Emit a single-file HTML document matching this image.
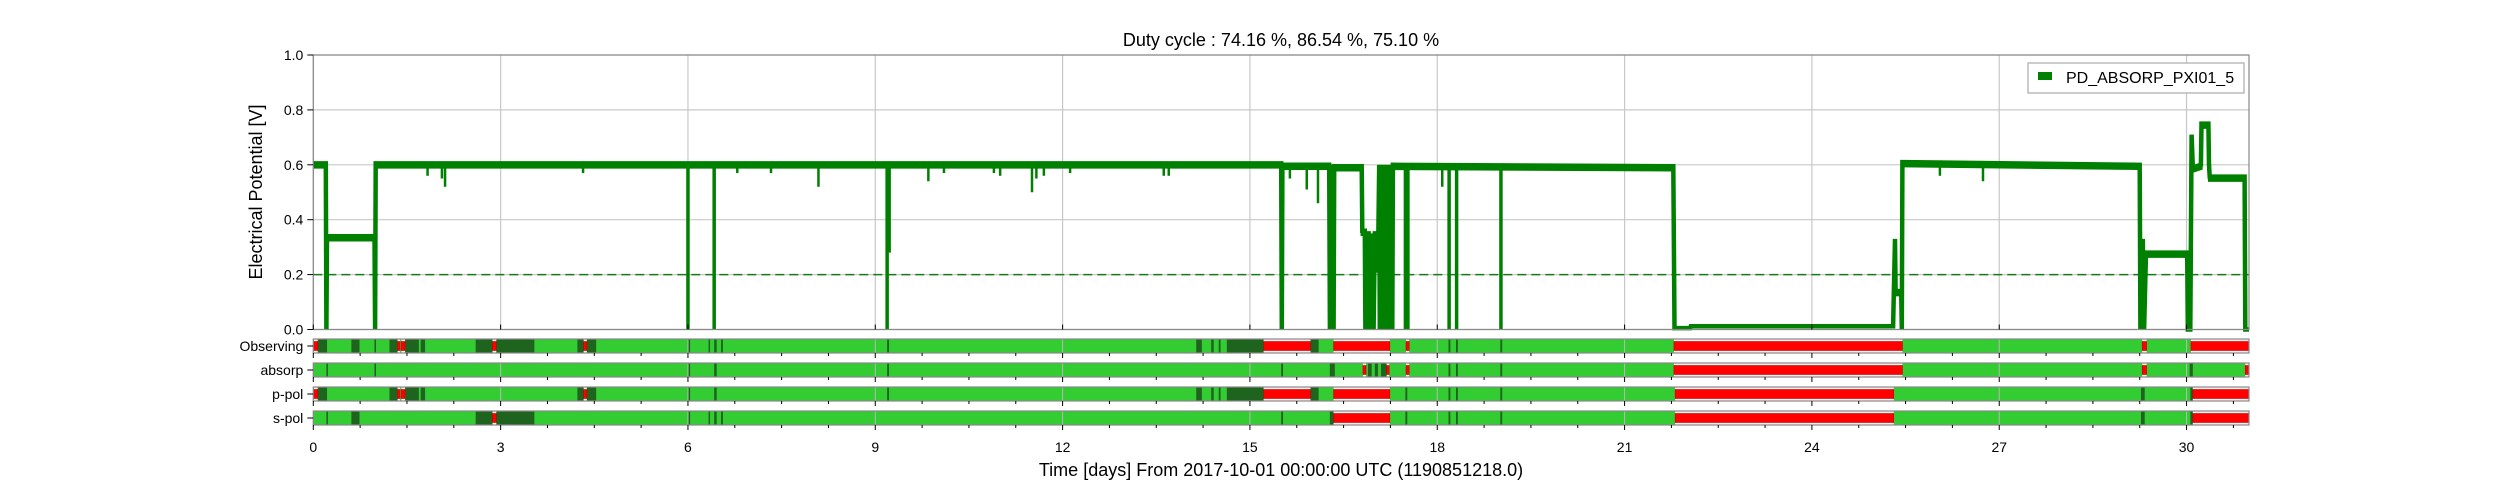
<!DOCTYPE html>
<html><head><meta charset="utf-8"><style>
html,body{margin:0;padding:0;background:#fff;}
svg{display:block;font-family:"Liberation Sans",sans-serif;}
</style></head><body>
<svg id="chart" width="2500" height="500" viewBox="0 0 2500 500" xmlns="http://www.w3.org/2000/svg">
<rect x="0" y="0" width="2500" height="500" fill="#fff"/>
<text x="1281" y="46" font-size="18" text-anchor="middle" fill="#000">Duty cycle : 74.16 %, 86.54 %, 75.10 %</text>
<text transform="translate(262,192) rotate(-90)" font-size="18" text-anchor="middle" fill="#000">Electrical Potential [V]</text>
<text x="1281" y="476" font-size="18" text-anchor="middle" fill="#000">Time [days] From 2017-10-01 00:00:00 UTC (1190851218.0)</text>
<g id="grid"></g>
<g id="series"></g>
<g id="segs"></g>
<g id="axes"></g>
<g id="legend">
<rect x="2028" y="63" width="216" height="30" fill="#fff" stroke="#aaa" stroke-width="1.2"/>
<rect x="2038" y="72" width="14" height="8" fill="#008000"/>
<text x="2066" y="83" font-size="16" fill="#000">PD_ABSORP_PXI01_5</text>
</g>
</svg>
<script>
// ---- data ----
const xTicks = [0,3,6,9,12,15,18,21,24,27,30];
const yTicks = [0.0,0.2,0.4,0.6,0.8,1.0];
const threshold = 0.2;
const traceDays  = [0,0.2,0.21,0.22,0.98,0.99,1.0,15.5,15.51,15.52,16.27,16.28,16.29,16.3,16.33,16.34,16.35,16.79,16.8,16.84,16.85,16.86,16.9,16.9,16.92,16.94,16.96,16.98,17.0,17.04,17.05,17.07,17.08,17.1,17.12,17.14,17.16,17.18,17.2,17.22,17.24,17.26,17.28,17.29,21.78,21.8,22.05,22.06,25.3,25.33,25.34,25.43,25.44,25.45,29.25,29.26,29.3,29.32,29.35,30.01,30.02,30.06,30.08,30.1,30.23,30.24,30.35,30.36,30.37,30.93,30.94,31];
const traceVolts = [0.605,0.605,0,0.34,0.34,0,0.605,0.605,0,0.6,0.6,0,0.6,0,0.6,0,0.595,0.595,0.36,0.36,0,0.35,0.35,0,0.35,0,0.35,0,0.35,0.35,0.22,0.6,0,0.6,0,0.6,0,0.6,0,0.6,0,0.6,0,0.6,0.595,0.005,0.005,0.012,0.012,0.33,0.14,0.14,0,0.61,0.6,0,0.33,0,0.28,0.28,0,0,0.71,0.59,0.6,0.75,0.75,0.6,0.557,0.557,0,0];
const dropDays = [6.0,6.42,9.19,17.49,17.53,18.19,18.31,19.02];
const dipDays  = [1.83,2.06,2.11,4.32,6.79,7.33,8.09,9.23,9.85,10.1,10.9,11.0,11.51,11.58,11.7,12.12,13.62,13.7,15.64,15.91,16.09,18.08,26.05,26.74];
const dipVolts = [0.56,0.55,0.52,0.57,0.57,0.57,0.52,0.28,0.54,0.57,0.57,0.56,0.5,0.55,0.56,0.57,0.56,0.56,0.55,0.51,0.46,0.52,0.56,0.54];
const segNames = ["Observing","absorp","p-pol","s-pol"];
const obsRed  = [[0,0.07],[1.35,1.39],[1.41,1.47],[2.87,2.93],[4.33,4.38],[15.22,15.97],[16.34,17.24],[17.5,17.55],[21.79,25.45],[29.29,29.36],[30.07,31]];
const obsDark = [[0.07,0.22],[0.61,0.74],[0.98,1.0],[1.22,1.35],[1.47,1.69],[1.72,1.79],[2.6,2.87],[2.93,3.54],[4.23,4.33],[4.38,4.53],[6.01,6.03],[6.33,6.35],[6.42,6.46],[6.53,6.56],[9.19,9.22],[14.14,14.23],[14.38,14.42],[14.5,14.53],[14.63,15.22],[15.3,15.35],[15.97,16.1],[18.18,18.21],[18.3,18.33],[19.01,19.04]];
const absRed  = [[16.81,16.86],[17.19,17.23],[17.5,17.55],[21.79,25.45],[29.29,29.36],[30.94,31]];
const absDark = [[0.21,0.23],[0.98,1.0],[6.01,6.03],[6.42,6.46],[9.19,9.22],[15.5,15.53],[16.28,16.36],[16.89,16.95],[17.0,17.05],[17.1,17.19],[18.18,18.21],[18.3,18.33],[19.01,19.04],[30.05,30.1]];
const ppRed   = [[0,0.07],[1.35,1.39],[1.41,1.47],[4.33,4.38],[15.22,15.97],[16.34,17.24],[21.81,25.31],[30.1,31]];
const ppDark  = [[0.07,0.22],[1.22,1.35],[1.47,1.69],[1.72,1.79],[4.23,4.33],[4.38,4.53],[6.01,6.03],[6.42,6.46],[9.19,9.22],[14.14,14.23],[14.38,14.42],[14.5,14.53],[14.63,15.22],[15.97,16.1],[17.49,17.52],[18.18,18.21],[18.3,18.33],[19.01,19.04],[29.27,29.33],[30.06,30.1]];
const spRed   = [[2.87,2.93],[16.34,17.24],[21.81,25.31],[30.1,31]];
const spDark  = [[0.21,0.23],[0.61,0.74],[2.6,2.87],[2.93,3.54],[6.01,6.03],[6.33,6.35],[6.42,6.46],[6.53,6.56],[15.5,15.53],[16.28,16.34],[17.49,17.52],[18.18,18.21],[18.3,18.33],[19.01,19.04],[29.27,29.33],[30.06,30.1]];

// ---- layout ----
const NS="http://www.w3.org/2000/svg";
const X0=313.3, X1=2249, XMAX=31, YT=55, YB=329.5;
const xs=d=>X0+(X1-X0)*d/XMAX;
const ys=v=>YB-(YB-YT)*v;
const rowTop=[339,363,387,411], rowH=14;
function mk(tag,attrs,parent){const e=document.createElementNS(NS,tag);for(const k in attrs)e.setAttribute(k,attrs[k]);parent.appendChild(e);return e;}
const grid=document.getElementById('grid'), series=document.getElementById('series'), segs=document.getElementById('segs'), axes=document.getElementById('axes');

// grid
yTicks.forEach(v=>{const l=mk('line',{x1:X0,x2:X1,y1:ys(v),y2:ys(v),stroke:'#c8c8c8','stroke-width':1.2},grid);

});
xTicks.forEach(d=>{const l=mk('line',{x1:xs(d),x2:xs(d),y1:YT,y2:YB,stroke:'#c8c8c8','stroke-width':1.2},grid);

});
// threshold
const th=mk('line',{x1:X0,x2:X1,y1:ys(threshold),y2:ys(threshold),stroke:'#1a7a1a','stroke-width':1.5,'stroke-dasharray':'9,5'},grid);



// series
const pts=traceDays.map((d,i)=>xs(d).toFixed(1)+','+ys(traceVolts[i]).toFixed(1)).join(' ');
const p1=mk('polyline',{points:pts,fill:'none',stroke:'#008000','stroke-width':4.5,'stroke-linejoin':'miter'},series);


const pts2=traceDays.map((d,i)=>xs(d).toFixed(1)+','+(ys(traceVolts[i])+ (traceVolts[i]>0.05?3.5:0)).toFixed(1)).join(' ');
const p2=mk('polyline',{points:pts2,fill:'none',stroke:'#008000','stroke-width':3.5},series);


dropDays.forEach(d=>{const l=mk('line',{x1:xs(d),x2:xs(d),y1:ys(0.6),y2:ys(0),stroke:'#008000','stroke-width':3.5},series);

});
dipDays.forEach((d,i)=>{const l=mk('line',{x1:xs(d),x2:xs(d),y1:ys(0.6),y2:ys(dipVolts[i]),stroke:'#008000','stroke-width':2.5},series);

});

// axes frame
const fr=mk('rect',{x:X0,y:YT,width:X1-X0,height:YB-YT,fill:'none',stroke:'#888','stroke-width':1.2},axes);


yTicks.forEach(v=>{
 const t=mk('line',{x1:X0-6,x2:X0,y1:ys(v),y2:ys(v),stroke:'#000','stroke-width':1},axes);
 
 
 const tx=mk('text',{x:X0-10,y:ys(v)+5,'font-size':14,'text-anchor':'end',fill:'#000'},axes);
 tx.textContent=v.toFixed(1);
 
 
});
xTicks.forEach(d=>{const t=mk('line',{x1:xs(d),x2:xs(d),y1:YB-5,y2:YB,stroke:'#000','stroke-width':1},axes);
 
 });

// segment rows
const redSets=[obsRed,absRed,ppRed,spRed], darkSets=[obsDark,absDark,ppDark,spDark];
segNames.forEach((name,r)=>{
 const y=rowTop[r];
 const g=mk('g',{},segs);
 
 
 const bg=mk('rect',{x:X0,y:y,width:X1-X0,height:rowH,fill:'#33cc33'},g);
 
 
 xTicks.forEach(d=>{const l=mk('line',{x1:xs(d),x2:xs(d),y1:y,y2:y+rowH,stroke:'#b8b8b8','stroke-width':1},g);
  
  });
 darkSets[r].forEach(s=>{const e=mk('rect',{x:xs(s[0]),y:y,width:Math.max(1.5,xs(s[1])-xs(s[0])),height:rowH,fill:'#1e631e'},g);
  
  });
 redSets[r].forEach(s=>{
  const w=Math.max(2,xs(s[1])-xs(s[0]));
  const wb=mk('rect',{x:xs(s[0]),y:y,width:w,height:rowH,fill:'#f4f4f4'},g);
  
  
  const e=mk('rect',{x:xs(s[0]),y:y+2.5,width:w,height:rowH-5,fill:'#ff0000',stroke:'#c00000','stroke-width':0.6},g);
  
  });
 const fb=mk('rect',{x:X0,y:y,width:X1-X0,height:rowH,fill:'none',stroke:'#888','stroke-width':1.2},g);
 
 
 const lt=mk('line',{x1:X0-6,x2:X0,y1:y+rowH/2,y2:y+rowH/2,stroke:'#000','stroke-width':1},g);
 
 
 const tx=mk('text',{x:X0-10,y:y+rowH/2+5,'font-size':14,'text-anchor':'end',fill:'#000'},g);
 tx.textContent=name;
 
 
 for(let d=0;d<=XMAX;d+=0.75){const mt=mk('line',{x1:xs(d),x2:xs(d),y1:y+rowH,y2:y+rowH+(d%3===0?5:3),stroke:'#000','stroke-width':1},g);
  
  }
});
xTicks.forEach(d=>{const tx=mk('text',{x:xs(d),y:452,'font-size':14,'text-anchor':'middle',fill:'#000'},axes);
 tx.textContent=String(d);
 
 });
</script>
</body></html>
